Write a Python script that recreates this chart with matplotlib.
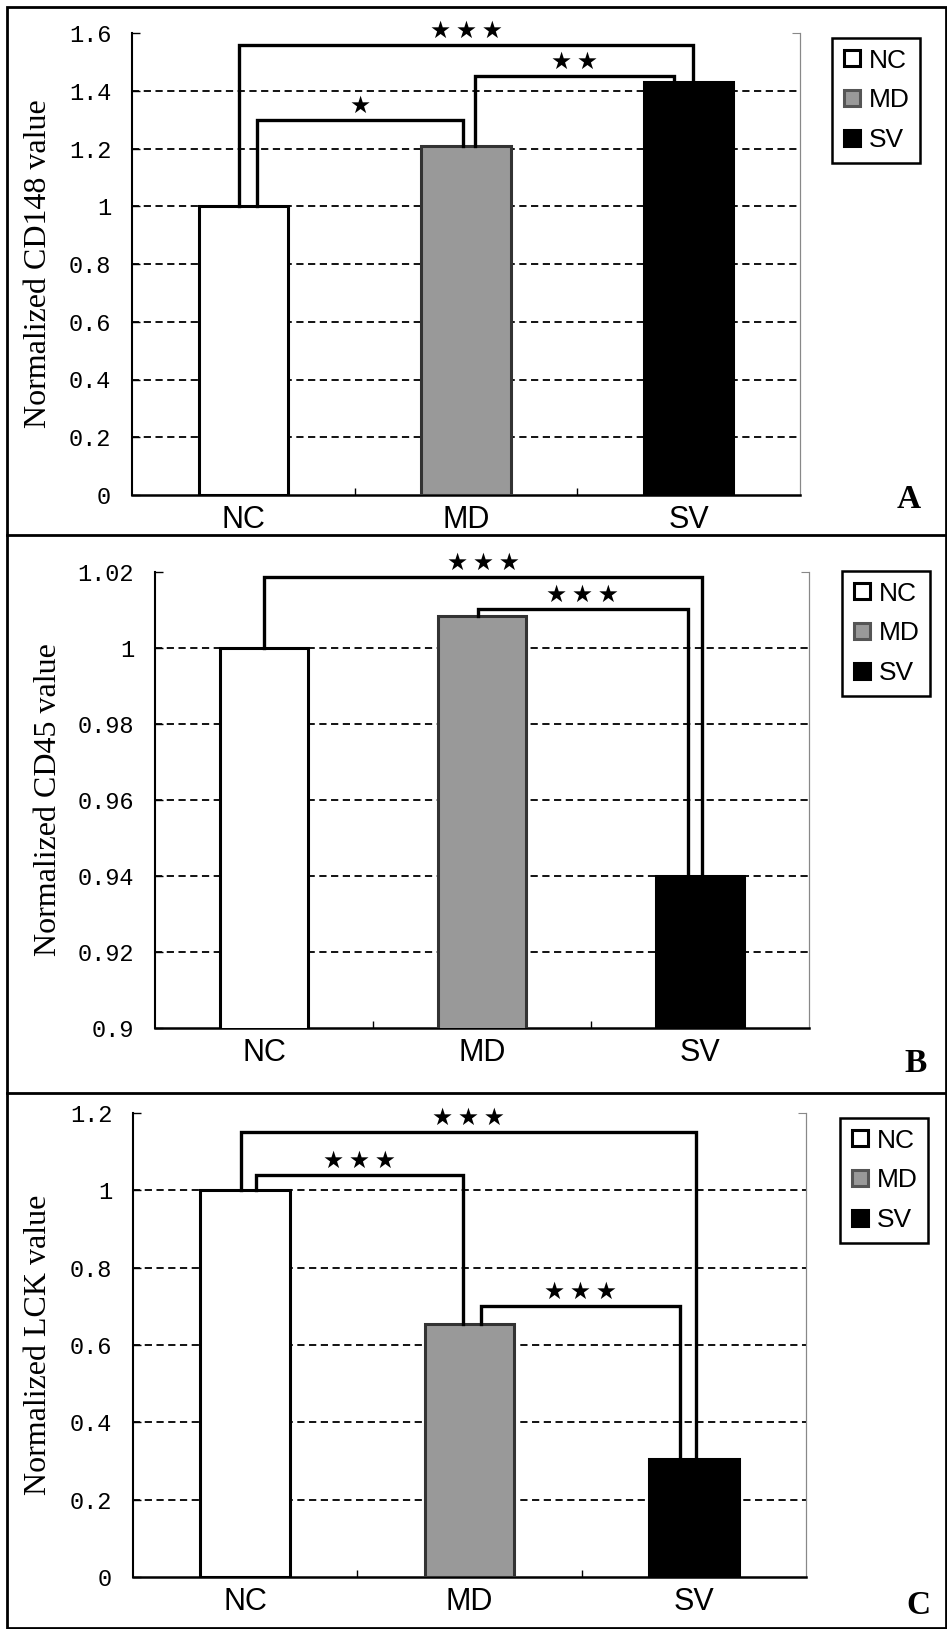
import matplotlib
matplotlib.use('Agg')
import matplotlib.pyplot as plt
from matplotlib.lines import Line2D
from matplotlib.patches import Rectangle

W, H = 947, 1629

groups = ['NC', 'MD', 'SV']
fills = ['white', '#999999', 'black']
edges = ['black', '#333333', 'black']

# bar heights
cd148 = [1.0, 1.21, 1.43]
cd45 = [1.0, 1.0084, 0.94]
lck = [1.0, 0.655, 0.305]

# significance brackets: (left group, right group, bracket height, stars)
sig_cd148 = [(0, 2, 1.56, '***'), (0, 1, 1.30, '*'), (1, 2, 1.45, '**')]
sig_cd45 = [(0, 2, 1.0188, '***'), (1, 2, 1.0103, '***')]
sig_lck = [(0, 2, 1.15, '***'), (0, 1, 1.04, '***'), (1, 2, 0.70, '***')]

# y axes
ticks_cd148 = [0, 0.2, 0.4, 0.6, 0.8, 1.0, 1.2, 1.4, 1.6]
labels_cd148 = ['0', '0.2', '0.4', '0.6', '0.8', '1', '1.2', '1.4', '1.6']
ticks_cd45 = [0.9, 0.92, 0.94, 0.96, 0.98, 1.0, 1.02]
labels_cd45 = ['0.9', '0.92', '0.94', '0.96', '0.98', '1', '1.02']
ticks_lck = [0, 0.2, 0.4, 0.6, 0.8, 1.0, 1.2]
labels_lck = ['0', '0.2', '0.4', '0.6', '0.8', '1', '1.2']

# where each bracket leg sits relative to bar centre (style only)
legs_cd148 = [(-0.02, 0.02), (0.06, -0.015), (0.04, -0.065)]
legs_cd45 = [(0.0, 0.01), (-0.02, -0.055)]
legs_lck = [(-0.02, 0.01), (0.05, -0.03), (0.05, -0.06)]

fig = plt.figure(figsize=(W / 100, H / 100), dpi=100)


def px_axes(x0, x1, y0, y1):
    return fig.add_axes([x0 / W, 1 - y1 / H, (x1 - x0) / W, (y1 - y0) / H])


def panel(ax, vals, ticks, tlabels, sig, legs, ylabel, letter, legend_xy, letter_xy, label_x):
    x = range(len(groups))
    ax.bar(x, vals, width=0.4, color=fills, edgecolor=edges, linewidth=2.2, zorder=3)
    ax.set_xlim(-0.5, 2.5)
    ax.set_ylim(ticks[0], ticks[-1])
    ax.set_yticks(ticks, tlabels, family='Liberation Mono', fontsize=17)
    ax.set_xticks(list(x), groups, family='Liberation Sans', fontsize=22)
    ax.set_xticks([0.5, 1.5], minor=True)
    ax.tick_params(axis='x', which='major', length=0, pad=7)
    ax.tick_params(axis='x', which='minor', direction='in', length=5, width=1)
    ax.tick_params(axis='y', direction='in', length=6, width=1, pad=15)
    ax.yaxis.grid(True, color='black', linestyle=(0, (4, 2.5)), linewidth=1.3)
    ax.set_axisbelow(True)
    gl = ax.get_ygridlines()
    gl[0].set_visible(False)
    gl[-1].set_visible(False)
    ax.spines['top'].set_visible(False)
    ax.spines['right'].set_color('#888888')
    ax.spines['left'].set_linewidth(1.5)
    ax.spines['bottom'].set_linewidth(1.8)
    sec = ax.secondary_yaxis('right')
    sec.set_yticks([ticks[-1]], [''])
    sec.tick_params(direction='in', length=6, color='#888888')
    sec.spines['right'].set_color('#888888')

    ax.set_ylabel(ylabel, family='Liberation Serif', fontsize=23)
    ax.yaxis.set_label_coords(label_x, 0.5)

    for (i, j, h, stars), (dl, dr) in zip(sig, legs):
        xl, xr = i + dl, j + dr
        ax.plot([xl, xl, xr, xr], [vals[i], h, h, vals[j]], color='black',
                lw=2.4, solid_joinstyle='miter', zorder=4, clip_on=False)
        ax.annotate('\u2009'.join('\u2605' * len(stars)), ((xl + xr) / 2, h),
                    xytext=(0, 5), textcoords='offset points', ha='center',
                    va='baseline', fontsize=17, family='DejaVu Sans')

    handles = [Line2D([], [], marker='s', ls='none', markersize=11,
                      markerfacecolor=f, markeredgecolor=e, markeredgewidth=2.2)
               for f, e in zip(fills, ['black', '#555555', 'black'])]
    leg = fig.legend(handles, groups, loc='upper left',
                     bbox_to_anchor=(legend_xy[0] / W, 1 - legend_xy[1] / H),
                     bbox_transform=fig.transFigure, fancybox=False,
                     framealpha=1, edgecolor='black', handlelength=0.7,
                     handletextpad=0.3, borderpad=0.4, labelspacing=0.6,
                     borderaxespad=0, prop={'family': 'Liberation Sans', 'size': 19})
    leg.get_frame().set_linewidth(1.8)

    fig.text(letter_xy[0] / W, 1 - letter_xy[1] / H, letter, family='Liberation Serif',
             fontweight='bold', fontsize=24, ha='center', va='center')


axA = px_axes(132, 800, 33, 495)
panel(axA, cd148, ticks_cd148, labels_cd148, sig_cd148, legs_cd148,
      'Normalized CD148 value', 'A', (832, 38), (909, 499), (53 - 132) / 668)

axB = px_axes(155, 809, 572, 1028)
panel(axB, cd45, ticks_cd45, labels_cd45, sig_cd45, legs_cd45,
      'Normalized CD45 value', 'B', (842, 571), (916, 1064), (63 - 155) / 654)

axC = px_axes(133, 806, 1113, 1577)
panel(axC, lck, ticks_lck, labels_lck, sig_lck, legs_lck,
      'Normalized LCK value', 'C', (840, 1118), (918, 1605), (53 - 133) / 673)

# panel frames
fig.add_artist(Rectangle((7 / W, 1 / H), (W - 8) / W, (H - 8) / H, fill=False,
                         edgecolor='black', lw=2, transform=fig.transFigure))
for ysep in (535, 1093):
    fig.add_artist(Line2D([7 / W, 1], [1 - ysep / H] * 2, color='black', lw=2,
                          transform=fig.transFigure))

fig.savefig('out.png', dpi=100, facecolor='white')
